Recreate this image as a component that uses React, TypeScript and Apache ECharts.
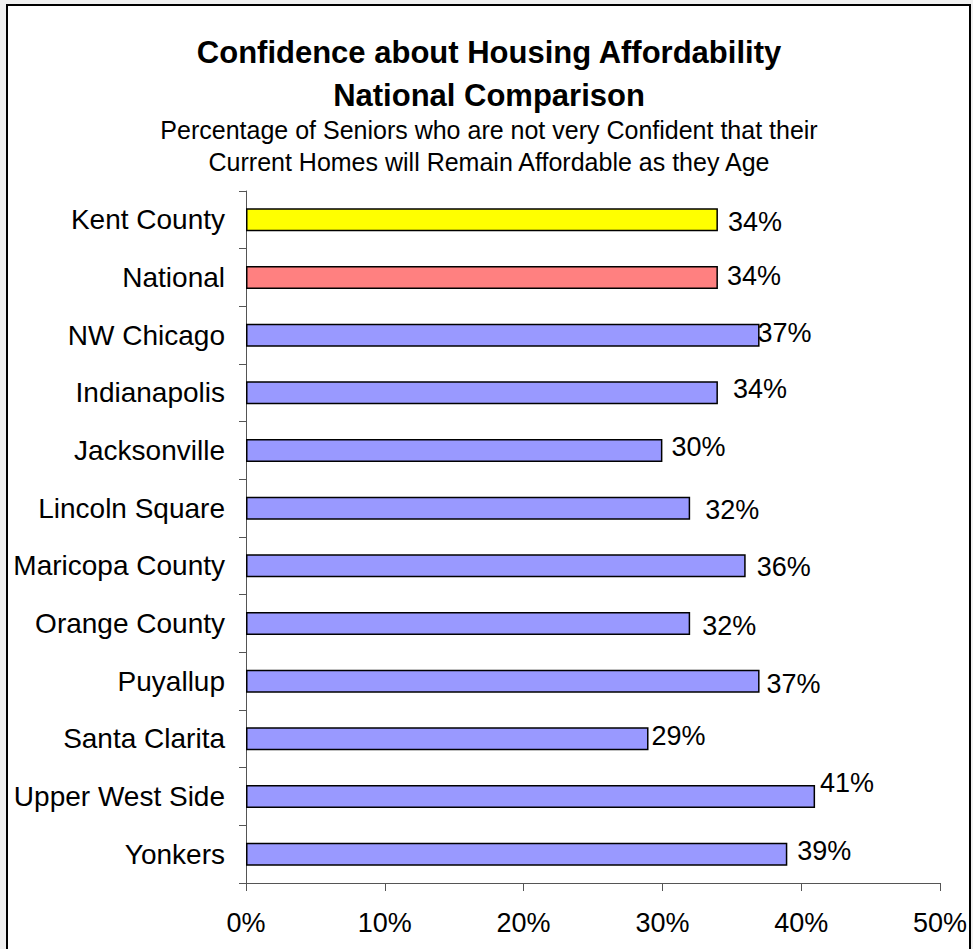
import React, { useEffect, useRef } from "react";
import * as echarts from "echarts";

const categories = [
  "Kent County",
  "National",
  "NW Chicago",
  "Indianapolis",
  "Jacksonville",
  "Lincoln Square",
  "Maricopa County",
  "Orange County",
  "Puyallup",
  "Santa Clarita",
  "Upper West Side",
  "Yonkers",
];
const values = [34, 34, 37, 34, 30, 32, 36, 32, 37, 29, 41, 39];
const xTicks = { min: 0, max: 50, interval: 10 };
const titleLines = ["Confidence about Housing Affordability", "National Comparison"];
const subtitleLines = [
  "Percentage of Seniors who are not very Confident that their",
  "Current Homes will Remain Affordable as they Age",
];
// manual label nudges (as placed in the original chart), in px
const labelOffsets: [number, number][] = [
  [1, 2], [0, -2], [-11, -2], [6, -4], [0, -4], [6, 2],
  [2, 1], [3, 2], [-2, 3], [-6, -3], [-4, -14], [1, -3],
];

const FONT = 'Arial, "Liberation Sans", Helvetica, sans-serif';

function barColor(name: string) {
  if (name === "Kent County") return "#ffff00";
  if (name === "National") return "#ff8080";
  return "#9999ff";
}

export default function App() {
  const ref = useRef<HTMLDivElement>(null);
  useEffect(() => {
    if (!ref.current) return;
    const chart = echarts.init(ref.current, null, { renderer: "svg" });
    chart.setOption({
      animation: false,
      backgroundColor: "transparent",
      title: [
        {
          text: titleLines.join("\n"),
          left: 489,
          top: 31,
          textAlign: "center",
          padding: 0,
          textStyle: {
            fontFamily: FONT,
            fontSize: 31,
            fontWeight: "bold",
            color: "#000",
            lineHeight: 43,
          },
        },
        {
          text: subtitleLines.join("\n"),
          left: 489,
          top: 114,
          textAlign: "center",
          padding: 0,
          textStyle: {
            fontFamily: FONT,
            fontSize: 25,
            fontWeight: "normal",
            color: "#000",
            lineHeight: 32,
          },
        },
      ],
      grid: { left: 246, right: 33, top: 191, bottom: 66, containLabel: false },
      xAxis: {
        type: "value",
        min: xTicks.min,
        max: xTicks.max,
        interval: xTicks.interval,
        splitLine: { show: false },
        axisLine: { show: true, lineStyle: { color: "#555", width: 1 } },
        axisTick: { show: true, length: 8, lineStyle: { color: "#555" } },
        axisLabel: {
          formatter: "{value}%",
          fontFamily: FONT,
          fontSize: 27,
          color: "#000",
          margin: 26,
        },
      },
      yAxis: {
        type: "category",
        inverse: true,
        data: categories,
        axisLine: { show: true, lineStyle: { color: "#555", width: 1 } },
        axisTick: { show: true, length: 7, lineStyle: { color: "#555" } },
        axisLabel: {
          fontFamily: FONT,
          fontSize: 28,
          color: "#000",
          margin: 21,
        },
      },
      series: [
        {
          type: "bar",
          barWidth: 23,
          data: values.map((v, i) => ({
            value: v,
            itemStyle: {
              color: barColor(categories[i]),
              borderColor: "#000",
              borderWidth: 1.5,
            },
            label: { offset: labelOffsets[i] },
          })),
          label: {
            show: true,
            position: "right",
            distance: 9,
            formatter: "{c}%",
            fontFamily: FONT,
            fontSize: 27,
            color: "#000",
          },
        },
      ],
    });
    return () => chart.dispose();
  }, []);

  return (
    <div
      style={{
        position: "absolute",
        left: 0,
        top: 0,
        width: 973,
        height: 949,
        background: "#f0f0f0",
        overflow: "hidden",
      }}
    >
      <div
        style={{
          position: "absolute",
          left: 6,
          top: 4,
          width: 961,
          height: 1000,
          border: "2px solid #000",
          background: "#fff",
        }}
      />
      <div
        ref={ref}
        style={{ position: "absolute", left: 0, top: 0, width: 973, height: 949 }}
      />
    </div>
  );
}
